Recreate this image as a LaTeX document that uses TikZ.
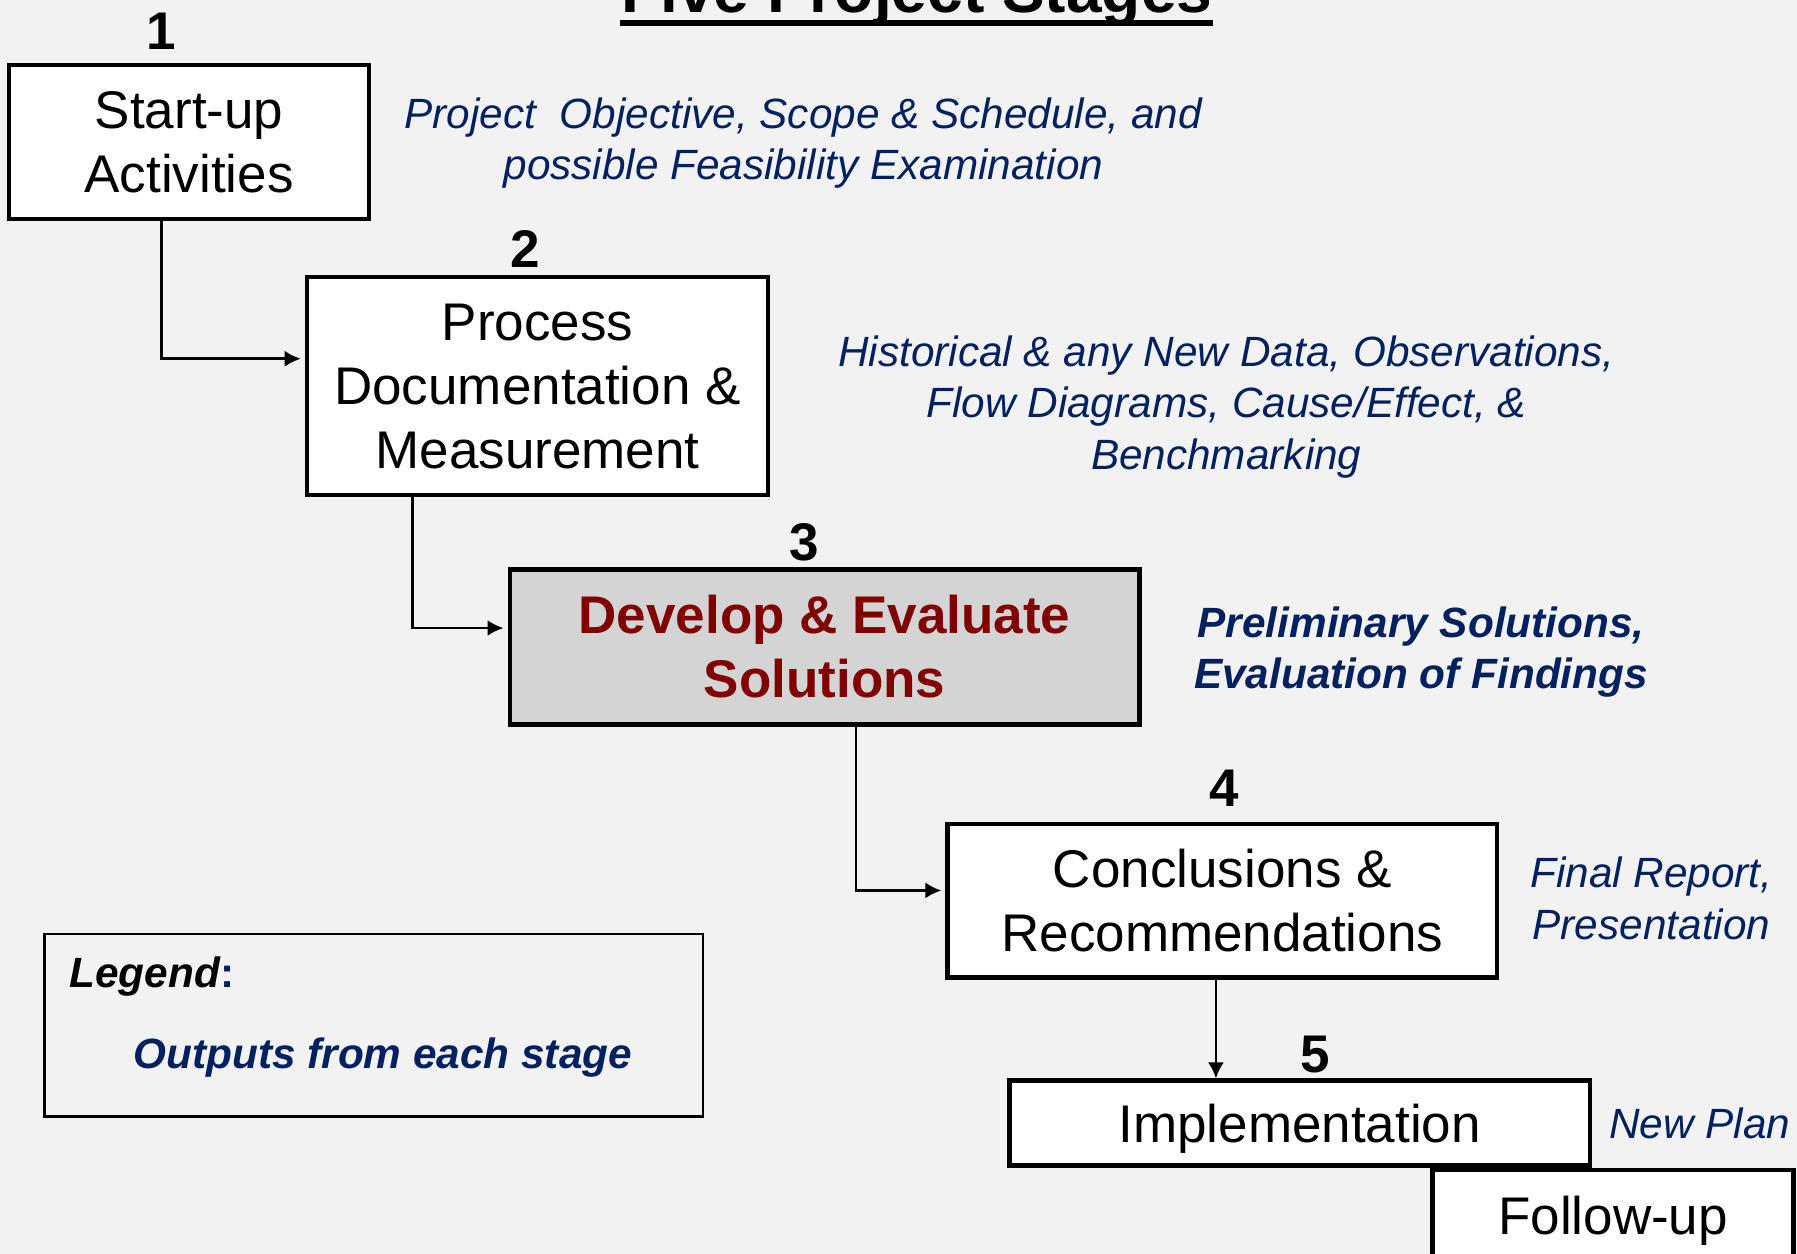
\documentclass[tikz,border=0pt]{standalone}
\usepackage{fontspec}
\setmainfont{Liberation Sans}
\usepackage{tikz}
\usetikzlibrary{arrows.meta,calc}
\definecolor{paper}{HTML}{F2F2F2}
\definecolor{navy}{HTML}{002060}
\definecolor{darkred}{HTML}{800000}
\definecolor{boxgray}{HTML}{D4D4D4}
\tikzset{
  stagebox/.style={draw=black, line width=1.1pt, fill=white, align=center, inner sep=0pt,
    font=\fontsize{13.15}{15.9}\selectfont},
  keybox/.style={stagebox, fill=boxgray, text=darkred,
    font=\fontsize{13.15}{15.9}\selectfont\bfseries},
  num/.style={font=\fontsize{13.15}{15.9}\selectfont\bfseries, inner sep=0pt},
  outp/.style={text=navy, align=center, inner sep=0pt,
    font=\fontsize{10.5}{12.8}\selectfont\itshape},
  outpb/.style={outp, font=\fontsize{10.5}{12.8}\selectfont\bfseries\itshape},
  link/.style={line width=0.65pt, -{Latex[length=1.4mm,width=1.4mm]}, shorten >=1pt},
  legbox/.style={draw=black, line width=0.6pt, inner sep=0pt},
  uline/.style={line width=1.6pt}
}
\begin{document}
\begin{tikzpicture}[x=0.01cm, y=-0.01cm]
  \path[use as bounding box, fill=paper] (0,0) rectangle (1568,1094);

  % title, cut by the top edge
  \node[inner sep=0pt, anchor=base, font=\fontsize{15.9}{18}\selectfont\bfseries] (title) at (800,11) {Five Project Stages};
  \draw[uline] ([yshift=-0.09cm]title.base west) -- ([yshift=-0.09cm]title.base east);

  % stages
  \node[stagebox, minimum width=3.14cm, minimum height=1.34cm] (s1) at (165,124) {Start-up\\Activities};
  \node[stagebox, minimum width=4.02cm, minimum height=1.90cm] (s2) at (469,337) {Process\\Documentation \&\\Measurement};
  \node[keybox, minimum width=5.49cm, minimum height=1.35cm] (s3) at (719.5,564.5) {Develop \& Evaluate\\Solutions};
  \node[stagebox, minimum width=4.79cm, minimum height=1.34cm] (s4) at (1066.5,786) {Conclusions \&\\Recommendations};
  \node[stagebox, text depth=0pt, minimum width=5.06cm, minimum height=0.74cm] (s5) at (1134,980) {Implementation};
  \node[stagebox, text depth=0pt, minimum width=3.15cm, minimum height=0.78cm] (s6) at (1407.5,1060) {Follow-up};

  \node[num] (n1) at (141,27) {1};
  \node[num] (n2) at (458,217) {2};
  \node[num] (n3) at (702,473) {3};
  \node[num] (n4) at (1068,688) {4};
  \node[num] (n5) at (1148,920) {5};

  % outputs
  \node[outp] (o1) at (701,125) {Project\ \ Objective, Scope \& Schedule, and\\possible Feasibility Examination};
  \node[outp] (o2) at (1070,355) {Historical \& any New Data, Observations,\\Flow Diagrams, Cause/Effect, \&\\Benchmarking};
  \node[outpb] (o3) at (1240,569) {Preliminary Solutions,\\Evaluation of Findings};
  \node[outp] (o4) at (1441,784) {Final Report,\\Presentation};
  \node[outp] (o5) at (1483,980) {New Plan};

  % connectors
  \coordinate (k1) at (141,313);
  \coordinate (k2) at (360,548);
  \coordinate (k3) at (747,777);
  \coordinate (k4) at (1061,853);
  \draw[link] (s1.south -| k1) |- (s2.west |- k1);
  \draw[link] (s2.south -| k2) |- (s3.west |- k2);
  \draw[link] (s3.south -| k3) |- (s4.west |- k3);
  \draw[link, shorten >=0pt] (s4.south -| k4) -- (s5.north -| k4);

  % legend
  \node[legbox, minimum width=5.74cm, minimum height=1.59cm] (leg) at (326,894.5) {};
  \node[inner sep=0pt, anchor=base west, font=\fontsize{10.5}{12.8}\selectfont\bfseries] (legt) at (60,862) {\textit{Legend}\textcolor{navy}{:}};
  \node[outpb, anchor=base] (lego) at (334,932) {Outputs from each stage};
\end{tikzpicture}
\end{document}
